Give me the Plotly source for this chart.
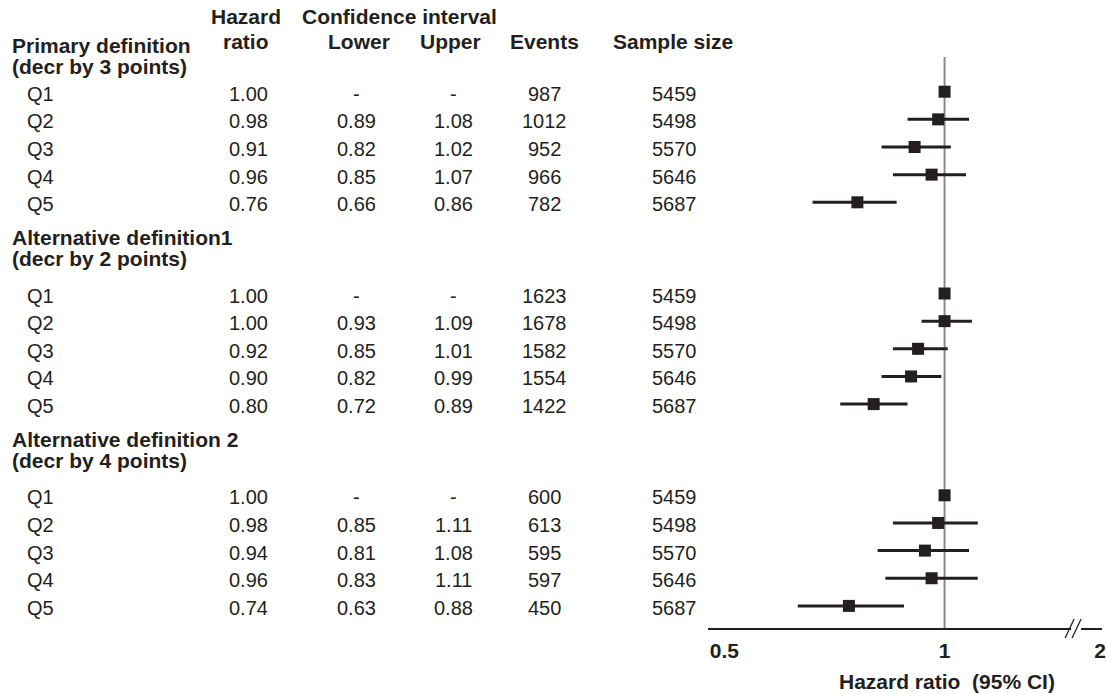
import math
import plotly.graph_objects as go

# ---------------- data ----------------
group_titles = ["Primary definition", "Alternative definition1", "Alternative definition 2"]
group_subtitles = ["(decr by 3 points)", "(decr by 2 points)", "(decr by 4 points)"]
quintiles = ["Q1", "Q2", "Q3", "Q4", "Q5"]
hazard_ratio = [[1.00, 0.98, 0.91, 0.96, 0.76],
                [1.00, 1.00, 0.92, 0.90, 0.80],
                [1.00, 0.98, 0.94, 0.96, 0.74]]
ci_lower = [[None, 0.89, 0.82, 0.85, 0.66],
            [None, 0.93, 0.85, 0.82, 0.72],
            [None, 0.85, 0.81, 0.83, 0.63]]
ci_upper = [[None, 1.08, 1.02, 1.07, 0.86],
            [None, 1.09, 1.01, 0.99, 0.89],
            [None, 1.11, 1.08, 1.11, 0.88]]
events = [[987, 1012, 952, 966, 782],
          [1623, 1678, 1582, 1554, 1422],
          [600, 613, 595, 597, 450]]
sample_size = [[5459, 5498, 5570, 5646, 5687],
               [5459, 5498, 5570, 5646, 5687],
               [5459, 5498, 5570, 5646, 5687]]
tick_labels = ["0.5", "1", "2"]
tick_values = [0.5, 1.0, 2.0]
reference_hr = 1.0

# ---------------- layout constants (pixels) ----------------
W, H = 1106, 694
AXIS_Y = 628            # x-axis line position
PLOT_LEFT = 711         # left end of forest plot area
PX_PER_DOUBLING = 221
X_REF_PX = 948          # pixel position of HR = 1
BREAK_PX = 1104         # compressed position of "2" after the axis break
ROW0, STEP, GROUP_GAP = 91.7, 27.65, 91.2
TITLE_OFFSETS = [(-46, -25), (-56.5, -35.5), (-56, -35)]
TEXT_DY = 2.0
FONT = "Liberation Sans, Arial, Helvetica, sans-serif"
INK = "#231f20"
FS = 20      # regular text
FSB = 21     # bold text

px_per_dec = PX_PER_DOUBLING / math.log10(2)
x_range = [-(X_REF_PX - PLOT_LEFT) / px_per_dec, (W - X_REF_PX) / px_per_dec]
tick_pos = [tick_values[0], tick_values[1],
            10 ** ((BREAK_PX - X_REF_PX) / px_per_dec)]  # axis break: "2" drawn compressed


def py(p):
    return 1 - p / H


def px(p):
    return p / W


# row positions
row_y = []
for g in range(len(hazard_ratio)):
    start = ROW0 + g * (4 * STEP + GROUP_GAP)
    row_y.append([start + i * STEP for i in range(len(quintiles))])

fig = go.Figure()

# reference line at HR = 1
fig.add_trace(go.Scatter(
    x=[reference_hr, reference_hr], y=[57, AXIS_Y], mode="lines",
    line=dict(color="#8a8a8a", width=2), showlegend=False, hoverinfo="skip"))

# markers with CI whiskers
xs, ys, ep, em = [], [], [], []
for g in range(len(hazard_ratio)):
    for i, h in enumerate(hazard_ratio[g]):
        xs.append(h)
        ys.append(row_y[g][i])
        lo, up = ci_lower[g][i], ci_upper[g][i]
        ep.append(up - h if up is not None else 0)
        em.append(h - lo if lo is not None else 0)

fig.add_trace(go.Scatter(
    x=xs, y=ys, mode="markers",
    marker=dict(symbol="square", size=12, color=INK, line=dict(width=0)),
    error_x=dict(type="data", array=ep, arrayminus=em, symmetric=False,
                 thickness=3, width=0, color=INK),
    showlegend=False, hoverinfo="skip", cliponaxis=False))

anns = []


def txt(x, y, s, anchor="center", bold=False):
    anns.append(dict(x=px(x), y=py(y), xref="paper", yref="paper", text=s,
                     showarrow=False, xanchor=anchor, yanchor="middle",
                     font=dict(family=FONT, size=FSB if bold else FS, color=INK,
                               weight="bold" if bold else "normal")))


# column header
txt(247, 17, "Hazard", bold=True)
txt(247, 41, "ratio", bold=True)
txt(401, 17, "Confidence interval", bold=True)
txt(360, 42, "Lower", bold=True)
txt(452, 42, "Upper", bold=True)
txt(546, 42, "Events", bold=True)
txt(675, 42, "Sample size", bold=True)

COLS = dict(hr=249, lo=358, up=455, ev=546, ss=677)
for g in range(len(hazard_ratio)):
    q1 = row_y[g][0]
    txt(10, q1 + TITLE_OFFSETS[g][0], group_titles[g], anchor="left", bold=True)
    txt(10, q1 + TITLE_OFFSETS[g][1], group_subtitles[g], anchor="left", bold=True)
    for i, q in enumerate(quintiles):
        y = row_y[g][i] + TEXT_DY
        txt(25, y, q, anchor="left")
        txt(COLS["hr"], y, f"{hazard_ratio[g][i]:.2f}")
        lo, up = ci_lower[g][i], ci_upper[g][i]
        txt(COLS["lo"], y, f"{lo:.2f}" if lo is not None else "-")
        txt(COLS["up"], y, f"{up:.2f}" if up is not None else "-")
        txt(COLS["ev"], y, str(events[g][i]))
        txt(COLS["ss"], y, str(sample_size[g][i]))

# axis title
txt(950, 681, "Hazard ratio  (95% CI)", bold=True)

shapes = [
    # axis break
    dict(type="rect", xref="paper", yref="paper", x0=px(1075), x1=px(1085),
         y0=py(632), y1=py(623), fillcolor="white", line=dict(width=0), layer="above"),
    dict(type="line", xref="paper", yref="paper", x0=px(1069), y0=py(638),
         x1=px(1078), y1=py(619), line=dict(color=INK, width=1.3)),
    dict(type="line", xref="paper", yref="paper", x0=px(1076), y0=py(638),
         x1=px(1085), y1=py(619), line=dict(color=INK, width=1.3)),
]

fig.update_layout(
    width=W, height=H, margin=dict(l=0, r=0, t=0, b=0),
    paper_bgcolor="white", plot_bgcolor="white",
    annotations=anns, shapes=shapes, showlegend=False,
    xaxis=dict(type="log", domain=[px(PLOT_LEFT), 1], range=x_range,
               showgrid=False, zeroline=False, showline=True,
               linecolor=INK, linewidth=2, ticks="",
               tickvals=tick_pos, ticktext=tick_labels,
               tickfont=dict(family=FONT, size=FSB, color=INK, weight="bold"),
               ticklabelstandoff=3, ticklabeloverflow="allow"),
    yaxis=dict(domain=[1 - AXIS_Y / H, 1], range=[AXIS_Y, 0], visible=False,
               showgrid=False, zeroline=False),
)

fig.write_html("out.html", config={"displayModeBar": False},
               post_script="document.body.style.margin='0';document.body.style.overflow='hidden';")
